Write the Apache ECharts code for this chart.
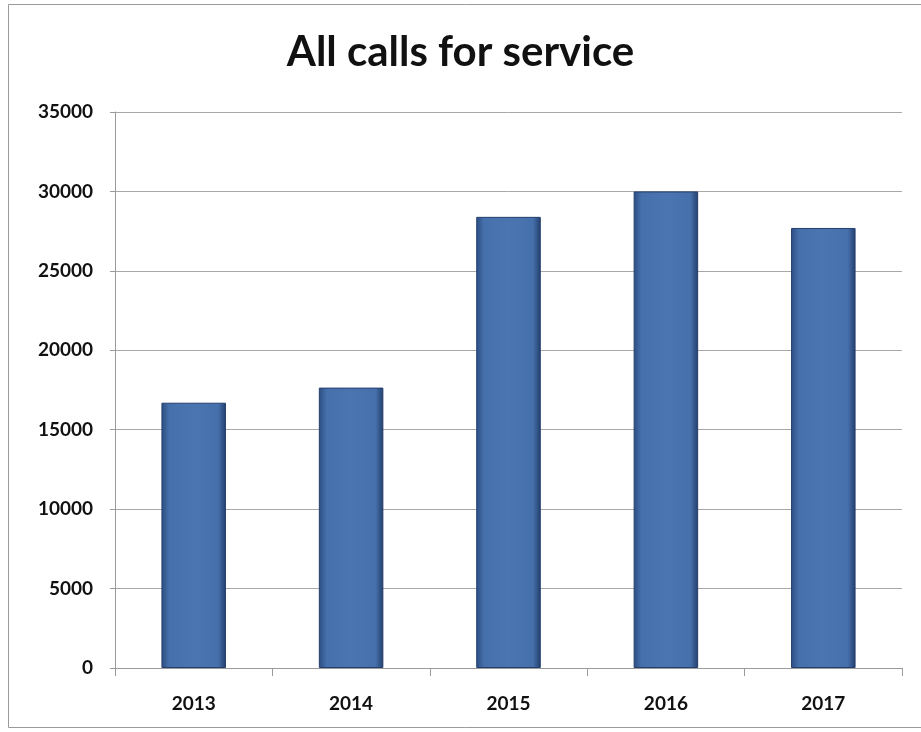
<!DOCTYPE html>
<html>
<head>
<meta charset="utf-8">
<style>
  html, body { margin: 0; padding: 0; background: #fff; }
  #chart { width: 921px; height: 732px; }
</style>
<script src="https://cdn.jsdelivr.net/npm/echarts@6/dist/echarts.min.js"></script>
</head>
<body>
<div id="chart"></div>
<script>
// Yearly totals of calls for service
const years = ['2013', '2014', '2015', '2016', '2017'];
const calls = [16700, 17650, 28400, 30000, 27700];
const yTicks = [0, 5000, 10000, 15000, 20000, 25000, 30000, 35000];

const chart = echarts.init(document.getElementById('chart'));

const barFill = new echarts.graphic.LinearGradient(0, 0, 1, 0, [
  { offset: 0, color: '#2b4c82' },
  { offset: 0.12, color: '#4670ab' },
  { offset: 0.5, color: '#4b75b0' },
  { offset: 0.88, color: '#4670ab' },
  { offset: 1, color: '#223e6c' }
]);

chart.setOption({
  backgroundColor: '#fff',
  animation: false,
  title: {
    text: 'All calls for service',
    left: 'center',
    top: 26,
    textStyle: { fontFamily: 'Lato', fontWeight: 'bold', fontSize: 42, color: '#111' }
  },
  graphic: [{
    type: 'rect',
    shape: { x: 8.5, y: 4.5, width: 930, height: 723 },
    style: { fill: 'none', stroke: '#9a9a9a', lineWidth: 1 },
    silent: true
  }],
  grid: { left: 115, right: 19, top: 112, bottom: 64 },
  xAxis: {
    type: 'category',
    data: years,
    axisLine: { lineStyle: { color: '#9a9a9a', width: 1 } },
    axisTick: { show: true, length: 8, lineStyle: { color: '#9a9a9a' } },
    axisLabel: { margin: 26, fontFamily: 'Lato', fontWeight: 'bold', fontSize: 19, color: '#111' }
  },
  yAxis: {
    type: 'value',
    min: yTicks[0],
    max: yTicks[yTicks.length - 1],
    interval: 5000,
    axisLine: { show: true, lineStyle: { color: '#9a9a9a', width: 1 } },
    axisTick: { show: true, length: 5, lineStyle: { color: '#9a9a9a' } },
    axisLabel: {
      margin: 22,
      fontFamily: 'Lato', fontWeight: 'bold', fontSize: 19, color: '#111',
      formatter: (v) => String(v)
    },
    splitLine: { lineStyle: { color: '#a8a8a8', width: 1 } }
  },
  series: [{
    type: 'bar',
    data: calls,
    barWidth: '41%',
    itemStyle: { color: barFill, borderColor: '#243f6c', borderWidth: 1 }
  }]
});
</script>
</body>
</html>
